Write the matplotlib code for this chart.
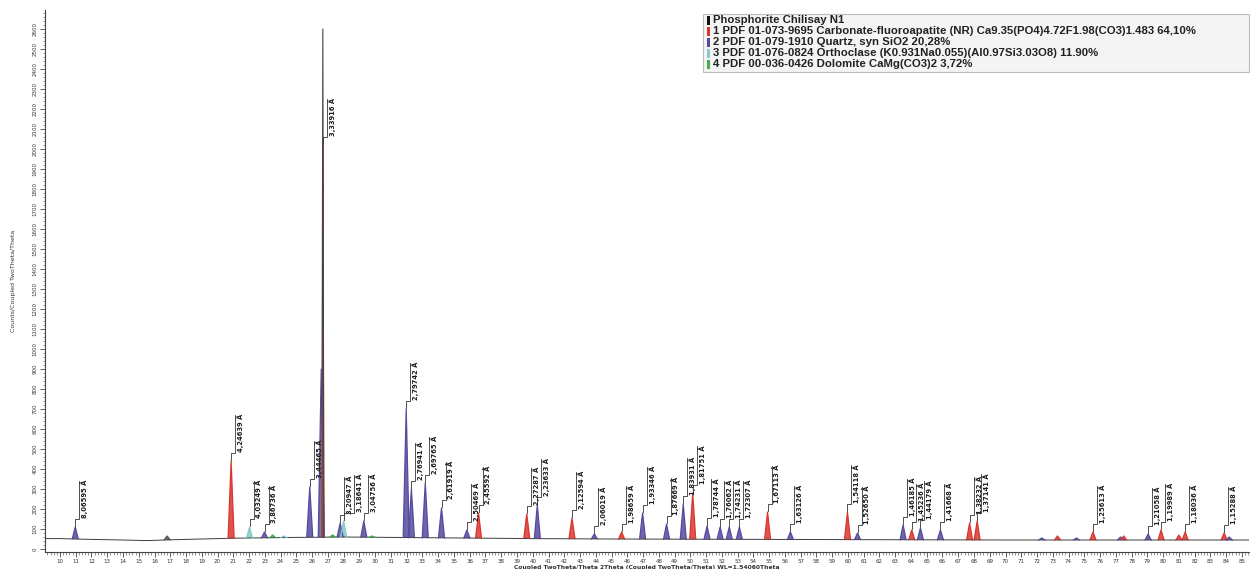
import numpy as np
import matplotlib
matplotlib.use("Agg")
from matplotlib import pyplot as plt
from matplotlib.patches import Rectangle
from matplotlib.ticker import MultipleLocator

W, H = 1251, 569

# scan background, counts
bg_2theta = [9.05, 10.0, 12.0, 14.0, 15.5, 17.0, 19.0, 21.0, 23.0, 25.0, 28.0, 31.0,
             34.0, 37.0, 40.0, 45.0, 50.0, 55.0, 60.0, 65.0, 70.0, 75.0, 80.0, 85.45]
bg_counts = [52, 52, 48, 45, 42, 46, 50, 54, 56, 58, 60, 58,
             56, 54, 52, 50, 49, 48, 47, 46, 45, 45, 45, 45]

# peaks: position (2Theta), top (counts), phase (0..3, -1 none), d-label
peak_2theta = [10.97, 16.80, 20.86, 22.03, 22.98, 23.50, 24.20, 25.85, 26.58, 26.68,
               27.30, 27.78, 28.00, 29.28, 29.80, 31.97, 32.30, 33.18, 34.21, 35.82,
               36.56, 39.62, 40.29, 42.49, 43.91, 45.64, 46.97, 48.49, 49.55, 50.15,
               51.06, 51.89, 52.47, 53.11, 54.90, 56.35, 59.97, 60.61, 63.50, 64.05,
               64.60, 65.87, 67.72, 68.20, 72.30, 73.30, 74.50, 75.55, 77.30, 77.50,
               79.05, 79.87, 81.00, 81.40, 83.87, 84.20]
peak_counts = [110, 65, 440, 110, 85, 70, 65, 310, 900, 2020,
               70, 130, 140, 140, 65, 700, 300, 330, 205, 95,
               180, 175, 220, 155, 75, 85, 180, 125, 225, 280,
               115, 110, 110, 110, 185, 85, 185, 80, 120, 95,
               105, 95, 130, 140, 55, 65, 55, 85, 60, 65,
               75, 95, 70, 85, 80, 60]
peak_phase = [1, -1, 0, 2, 1, 3, 2, 1, 1, 0,
              3, 1, 2, 1, 3, 1, 1, 1, 1, 1,
              0, 0, 1, 0, 1, 0, 1, 1, 1, 0,
              1, 1, 1, 1, 0, 1, 0, 1, 1, 0,
              1, 1, 0, 0, 1, 0, 1, 0, 1, 0,
              1, 0, 0, 0, 0, 1]
peak_labels = ["8,06595 Å", None, "4,24639 Å", "4,03249 Å", "3,86736 Å", None, None, "3,44465 Å", None, "3,33916 Å",
               None, "3,20947 Å", "3,18641 Å", "3,04756 Å", None, "2,79742 Å", "2,76941 Å", "2,69765 Å", "2,61919 Å", "2,50469 Å",
               "2,45592 Å", "2,27287 Å", "2,23633 Å", "2,12594 Å", "2,06019 Å", "1,98659 Å", "1,93346 Å", "1,87669 Å", "1,83931 Å", "1,81751 Å",
               "1,78744 Å", "1,76062 Å", "1,74231 Å", "1,72307 Å", "1,67113 Å", "1,63126 Å", "1,54118 Å", "1,52650 Å", "1,46185 Å", "1,45236 Å",
               "1,44179 Å", "1,41668 Å", "1,38232 Å", "1,37141 Å", None, None, None, "1,25613 Å", None, None,
               "1,21058 Å", "1,19989 Å", None, "1,18036 Å", "1,15288 Å", None]

main_peak = 9           # index of the strongest reflection
main_scan_top = 2600    # measured maximum above the reference stick

# extra sideways offset (px) for crowded labels
label_shift = {12: 6}

phase_colors = ["#d9362f", "#554b9e", "#86cbc6", "#45ad4a"]
legend_names = [
    "Phosphorite Chilisay N1",
    "1 PDF 01-073-9695 Carbonate-fluoroapatite (NR) Ca9.35(PO4)4.72F1.98(CO3)1.483 64,10%",
    "2 PDF 01-079-1910 Quartz, syn SiO2 20,28%",
    "3 PDF 01-076-0824 Orthoclase (K0.931Na0.055)(Al0.97Si3.03O8) 11.90%",
    "4 PDF 00-036-0426 Dolomite CaMg(CO3)2 3,72%",
]
legend_colors = ["#111111"] + phase_colors


def px_box(x0, y0, x1, y1):
    return [x0 / W, 1 - y1 / H, (x1 - x0) / W, (y1 - y0) / H]


fig = plt.figure(figsize=(W / 100, H / 100), dpi=100)
ax = fig.add_axes(px_box(45, 10, 1249, 552))
ax.set_xlim(9.05, 85.45)
ax.set_ylim(-15, 2695)

dx = (85.45 - 9.05) / (1249 - 45)   # degrees per pixel
dy = (2695 + 15) / (552 - 10)       # counts per pixel
half_w = 3.0 * dx

# background trace
ax.plot(bg_2theta, bg_counts, color="#3c3c3c", lw=0.7, zorder=3)

for i, (t, c, ph) in enumerate(zip(peak_2theta, peak_counts, peak_phase)):
    base = np.interp(t, bg_2theta, bg_counts)
    col = phase_colors[ph] if ph >= 0 else "#555555"
    w = half_w * (0.7 if i == main_peak else 1.0)
    xs = [t - w, t, t + w]
    ys = [base, c, base]
    if i == main_peak:
        ax.fill(xs, ys, color="#eaa5a2", lw=0, zorder=2)
        ax.plot([t, t], [base, c], color=col, lw=1.3, zorder=4)
        ax.plot([t - 0.5 * w, t, t + 0.5 * w], [base, main_scan_top, base],
                color="#444444", lw=0.8, zorder=5)
    else:
        ax.fill(xs, ys, color=col, alpha=0.85, lw=0, zorder=2)
        ax.plot(xs, ys, color=col, lw=0.9, zorder=4)

# d-spacing labels with leaders
renderer = fig.canvas.get_renderer()
for i, (t, c, lab) in enumerate(zip(peak_2theta, peak_counts, peak_labels)):
    if lab is None:
        continue
    bar = t + (4 + label_shift.get(i, 0)) * dx
    txt = ax.text(bar + 1 * dx, c + 9 * dy, lab, rotation=90, ha="left", va="bottom",
                  fontsize=4.9, fontweight="bold", color="#1e1e1e",
                  family=["Liberation Sans Narrow", "DejaVu Sans"], zorder=6)
    ext = txt.get_window_extent(renderer=renderer)
    L = ext.height * dy
    ax.plot([t, t, bar, bar],
            [c + 1 * dy, c + 8 * dy, c + 8 * dy, c + 8 * dy + L],
            color="#333333", lw=0.6, zorder=6)

# axes styling
for s in ("top", "right"):
    ax.spines[s].set_visible(False)
for s in ("left", "bottom"):
    ax.spines[s].set_color("#444444")
    ax.spines[s].set_linewidth(0.8)
ax.xaxis.set_major_locator(MultipleLocator(1))
ax.xaxis.set_minor_locator(MultipleLocator(0.2))
ax.yaxis.set_major_locator(MultipleLocator(100))
ax.yaxis.set_minor_locator(MultipleLocator(20))
ax.tick_params(axis="both", which="major", length=3.5, width=0.6, color="#444444",
               labelsize=4, labelcolor="#333333", pad=2)
ax.tick_params(axis="x", which="major", pad=1.5)
ax.tick_params(axis="both", which="minor", length=1.8, width=0.4, color="#444444")
ax.tick_params(axis="y", labelrotation=90)
for lbl in ax.get_yticklabels():
    lbl.set_verticalalignment("center")
ax.set_xlabel("Coupled TwoTheta/Theta 2Theta (Coupled TwoTheta/Theta) WL=1.54060Theta",
              fontsize=4.3, fontweight="bold", color="#333333", labelpad=0.5)
ax.set_ylabel("Counts/Coupled TwoTheta/Theta", fontsize=4.5, color="#333333", labelpad=12)

# legend box
fig.patches.append(Rectangle((703 / W, 1 - 72 / H), (1249 - 703) / W, (72 - 14) / H,
                             transform=fig.transFigure, facecolor="#f4f4f4",
                             edgecolor="#bdbdbd", lw=0.8, zorder=0))
for k, (name, col) in enumerate(zip(legend_names, legend_colors)):
    yc = 20 + k * 11
    fig.patches.append(Rectangle((707 / W, 1 - (yc + 4.5) / H), 3 / W, 9 / H,
                                 transform=fig.transFigure, facecolor=col, lw=0))
    fig.text(713 / W, 1 - yc / H, name, ha="left", va="center", fontsize=8.2,
             fontweight="bold", color="#222222", family="Liberation Sans")

fig.savefig("out.png", dpi=100)
